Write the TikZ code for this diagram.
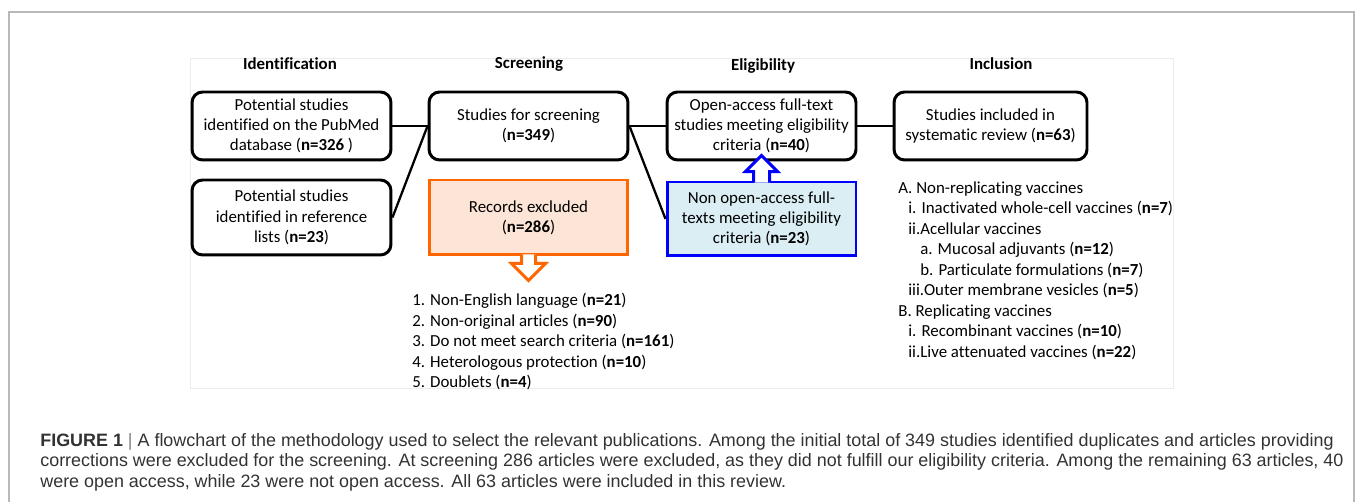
\documentclass[tikz,border=0pt]{standalone}
\usepackage{fontspec}
\setmainfont{Carlito}[Ligatures={NoCommon,NoContextual}]
\newfontfamily\captionfont{Liberation Sans}
\usetikzlibrary{positioning, calc}

\definecolor{exclorange}{RGB}{255, 102, 0}
\definecolor{exclfill}{RGB}{252, 229, 214}
\definecolor{nonoablue}{RGB}{0, 0, 255}
\definecolor{nonoafill}{RGB}{218, 238, 243}
\definecolor{framegray}{RGB}{185, 185, 185}
\definecolor{panelgray}{RGB}{236, 236, 236}
\definecolor{captiongray}{RGB}{50, 50, 50}

\tikzset{
  stagehead/.style={font=\fontsize{9.6}{11.5}\selectfont\bfseries},
  stagebox/.style={draw, line width=1.7pt, rounded corners=6pt, align=center, inner sep=0pt,
    font=\fontsize{9.6}{11.5}\selectfont},
  exclbox/.style={draw=exclorange, fill=exclfill, line width=1.7pt, align=center, inner sep=0pt,
    font=\fontsize{9.6}{11.5}\selectfont},
  nonoabox/.style={draw=nonoablue, fill=nonoafill, line width=1.7pt, align=center, inner sep=0pt,
    font=\fontsize{9.6}{11.5}\selectfont},
  link/.style={line width=1.3pt},
  listtext/.style={align=left, inner sep=0pt, font=\fontsize{9.6}{11.7}\selectfont},
  captext/.style={align=left, inner sep=0pt, text=captiongray, font=\captionfont\fontsize{10.2}{11.7}\selectfont}
}

\begin{document}
\begin{tikzpicture}[x=0.02cm, y=-0.02cm]
  \useasboundingbox (0,0) rectangle (1355,502);

  % Frame and panel
  \draw[framegray, line width=0.9pt] (9,502) -- (9,12) -- (1354,12) -- (1354,502);
  \draw[panelgray, line width=0.5pt] (190,58) rectangle (1173,388);

  % Stage headings
  \node[stagehead] (identhead) at (290,64) {Identification};
  \node[stagehead] (screenhead) at (529,64) {Screening};
  \node[stagehead] (elighead) at (763,66) {Eligibility};
  \node[stagehead] (inclhead) at (1001,64) {Inclusion};

  % Identification
  \node[stagebox, minimum width=3.98cm, minimum height=1.36cm] (pubmed) at (291.5,126)
    {Potential studies\\identified on the PubMed\\database (\textbf{n=326} )};
  \node[stagebox, minimum width=3.98cm, minimum height=1.5cm] (reflists) at (291.5,217.5)
    {Potential studies\\identified in reference\\lists (\textbf{n=23})};

  % Screening
  \node[stagebox, minimum width=3.98cm, minimum height=1.36cm] (screen) at (528.5,126)
    {Studies for screening\\(\textbf{n=349})};
  \node[exclbox, minimum width=3.98cm, minimum height=1.5cm] (excluded) at (528.5,217.5)
    {Records excluded\\(\textbf{n=286})};

  % Eligibility
  \node[stagebox, minimum width=3.78cm, minimum height=1.36cm] (openacc) at (761.5,126)
    {Open-access full-text\\studies meeting eligibility\\criteria (\textbf{n=40})};
  \node[nonoabox, minimum width=3.78cm, minimum height=1.48cm] (nonopen) at (761.5,219)
    {Non open-access full-\\texts meeting eligibility\\criteria (\textbf{n=23})};

  % Inclusion
  \node[stagebox, minimum width=3.86cm, minimum height=1.36cm] (included) at (990.5,126)
    {Studies included in\\systematic review (\textbf{n=63})};

  % Connectors
  \draw[link] (pubmed.east) -- (screen.west);
  \draw[link] (reflists.east) -- (screen.west);
  \draw[link] (screen.east) -- (openacc.west);
  \draw[link] (screen.east) -- (nonopen.west);
  \draw[link] (openacc.east) -- (included.west);

  % Block arrows
  \draw[exclorange, line width=1.7pt, fill=white, line join=miter]
    ($(excluded.south)+(-7,-2)$) -- ++(0,9) -- ++(-10,0) -- ($(excluded.south)+(0,24)$)
    -- ($(excluded.south)+(17,7)$) -- ++(-10,0) -- ++(0,-9);
  \draw[nonoablue, line width=1.7pt, fill=white, line join=miter]
    ($(nonopen.north)+(-8,2)$) -- ++(0,-11) -- ++(-8,0) -- ($(nonopen.north)+(0,-25)$)
    -- ($(nonopen.north)+(16,-9)$) -- ++(-8,0) -- ++(0,11);

  % Lists
  \node[listtext, anchor=north west] (exclist) at (412,293)
    {1. Non-English language (\textbf{n=21})\\
     2. Non-original articles (\textbf{n=90})\\
     3. Do not meet search criteria (\textbf{n=161})\\
     4. Heterologous protection (\textbf{n=10})\\
     5. Doublets (\textbf{n=4})};
  \node[listtext, anchor=north west] (incllist) at (898,181)
    {A. Non-replicating vaccines\\
     \hspace*{5.7pt}i. Inactivated whole-cell vaccines (\textbf{n=7})\\
     \hspace*{5.7pt}ii.Acellular vaccines\\
     \hspace*{12.5pt}a. Mucosal adjuvants (\textbf{n=12})\\
     \hspace*{12.5pt}b. Particulate formulations (\textbf{n=7})\\
     \hspace*{5.7pt}iii.Outer membrane vesicles (\textbf{n=5})\\
     B. Replicating vaccines\\
     \hspace*{5.7pt}i. Recombinant vaccines (\textbf{n=10})\\
     \hspace*{5.7pt}ii.Live attenuated vaccines (\textbf{n=22})};

  % Caption
  \node[captext, anchor=north west] (caption) at (40,433)
    {\textbf{FIGURE 1} {\color{gray}|} A flowchart of the methodology used to select the relevant publications. Among the initial total of 349 studies identified duplicates and articles providing\\
     corrections were excluded for the screening. At screening 286 articles were excluded, as they did not fulfill our eligibility criteria. Among the remaining 63 articles, 40\\
     were open access, while 23 were not open access. All 63 articles were included in this review.};
\end{tikzpicture}
\end{document}
